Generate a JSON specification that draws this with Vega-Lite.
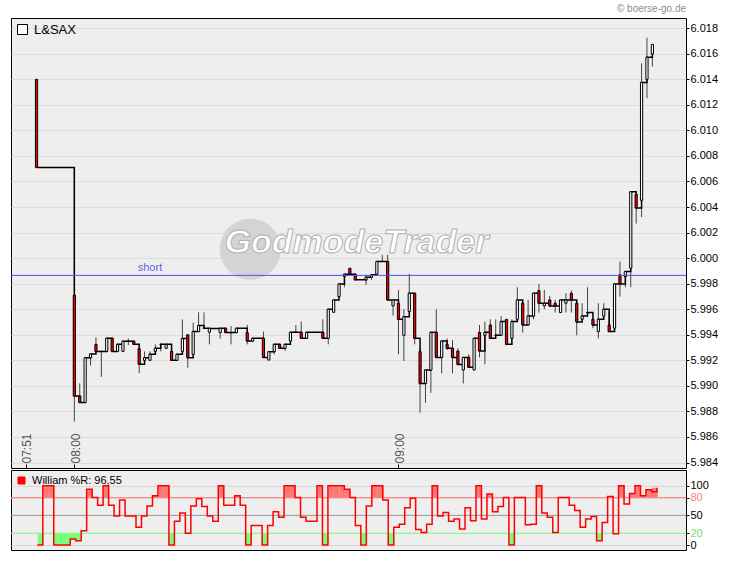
{
  "$schema": "https://vega.github.io/schema/vega-lite/v6.json",
  "padding": {"top": 3, "left": 10, "right": 0, "bottom": 0},
  "background": "white",
  "config": {
    "font": "Liberation Sans",
    "view": {"fill": "#eeeeee", "stroke": "black", "strokeWidth": 1},
    "axis": {"labelFont": "Liberation Sans", "labelFontSize": 11, "labelColor": "black", "tickColor": "black", "gridColor": "#dcdcdc", "domain": false, "title": null, "labelOverlap": false, "labelFlush": false, "labelBound": false}
  },
  "spacing": 0,
  "resolve": {"scale": {"color": "independent", "x": "independent", "y": "independent"}, "legend": {"color": "independent"}},
  "datasets": {
    "candles": [
      {"m": 473, "o": 6.014, "h": 6.014, "l": 6.0071, "c": 6.0071},
      {"m": 480, "o": 5.9971, "h": 6.0071, "l": 5.9872, "c": 5.9892},
      {"m": 481, "o": 5.9892, "h": 5.9902, "l": 5.9887, "c": 5.9887},
      {"m": 482, "o": 5.9887, "h": 5.9922, "l": 5.9887, "c": 5.9922},
      {"m": 483, "o": 5.9922, "h": 5.9925, "l": 5.9916, "c": 5.9925},
      {"m": 484, "o": 5.99325, "h": 5.9938, "l": 5.9927, "c": 5.9927},
      {"m": 485, "o": 5.9927, "h": 5.9927, "l": 5.9907, "c": 5.9927},
      {"m": 486, "o": 5.9927, "h": 5.99373, "l": 5.9927, "c": 5.99373},
      {"m": 487, "o": 5.99373, "h": 5.99373, "l": 5.9927, "c": 5.9927},
      {"m": 488, "o": 5.9927, "h": 5.99325, "l": 5.9927, "c": 5.99325},
      {"m": 489, "o": 5.9927, "h": 5.9935, "l": 5.9927, "c": 5.9935},
      {"m": 490, "o": 5.9935, "h": 5.9937, "l": 5.9932, "c": 5.9935},
      {"m": 491, "o": 5.9935, "h": 5.9935, "l": 5.99325, "c": 5.99325},
      {"m": 492, "o": 5.9929, "h": 5.9929, "l": 5.991, "c": 5.99169},
      {"m": 493, "o": 5.992, "h": 5.9927, "l": 5.992, "c": 5.99221},
      {"m": 494, "o": 5.992, "h": 5.9927, "l": 5.992, "c": 5.99247},
      {"m": 495, "o": 5.9927, "h": 5.99325, "l": 5.9927, "c": 5.99294},
      {"m": 496, "o": 5.99325, "h": 5.99325, "l": 5.9927, "c": 5.99325},
      {"m": 497, "o": 5.99294, "h": 5.99325, "l": 5.99294, "c": 5.99325},
      {"m": 498, "o": 5.9927, "h": 5.9927, "l": 5.992, "c": 5.992},
      {"m": 499, "o": 5.992, "h": 5.99247, "l": 5.992, "c": 5.99247},
      {"m": 500, "o": 5.9927, "h": 5.9952, "l": 5.9927, "c": 5.9937},
      {"m": 501, "o": 5.994, "h": 5.994, "l": 5.99142, "c": 5.99221},
      {"m": 502, "o": 5.99247, "h": 5.99495, "l": 5.99247, "c": 5.99425},
      {"m": 503, "o": 5.99425, "h": 5.99576, "l": 5.99425, "c": 5.99472},
      {"m": 504, "o": 5.99451, "h": 5.99576, "l": 5.99451, "c": 5.99451},
      {"m": 505, "o": 5.9942, "h": 5.9945, "l": 5.99325, "c": 5.9945},
      {"m": 507, "o": 5.99417, "h": 5.99451, "l": 5.9937, "c": 5.99451},
      {"m": 508, "o": 5.99451, "h": 5.99451, "l": 5.99417, "c": 5.99417},
      {"m": 509, "o": 5.99417, "h": 5.99469, "l": 5.99325, "c": 5.99417},
      {"m": 510, "o": 5.99417, "h": 5.99451, "l": 5.99417, "c": 5.99451},
      {"m": 512, "o": 5.99417, "h": 5.99477, "l": 5.99325, "c": 5.99351},
      {"m": 513, "o": 5.99351, "h": 5.99372, "l": 5.99351, "c": 5.99372},
      {"m": 515, "o": 5.99372, "h": 5.99425, "l": 5.99223, "c": 5.99223},
      {"m": 516, "o": 5.99202, "h": 5.99268, "l": 5.99202, "c": 5.99268},
      {"m": 517, "o": 5.99268, "h": 5.99325, "l": 5.99247, "c": 5.99325},
      {"m": 518, "o": 5.99325, "h": 5.99325, "l": 5.99294, "c": 5.99294},
      {"m": 519, "o": 5.99294, "h": 5.99325, "l": 5.99273, "c": 5.99325},
      {"m": 520, "o": 5.99351, "h": 5.99419, "l": 5.99351, "c": 5.99419},
      {"m": 521, "o": 5.99419, "h": 5.99477, "l": 5.99419, "c": 5.99419},
      {"m": 522, "o": 5.99419, "h": 5.99503, "l": 5.99372, "c": 5.99372},
      {"m": 523, "o": 5.99372, "h": 5.99419, "l": 5.99372, "c": 5.99419},
      {"m": 526, "o": 5.99419, "h": 5.99521, "l": 5.99372, "c": 5.99372},
      {"m": 527, "o": 5.99372, "h": 5.996, "l": 5.99325, "c": 5.996},
      {"m": 528, "o": 5.99576, "h": 5.99673, "l": 5.99576, "c": 5.99673},
      {"m": 529, "o": 5.99699, "h": 5.99798, "l": 5.99699, "c": 5.99798},
      {"m": 530, "o": 5.99856, "h": 5.99874, "l": 5.99772, "c": 5.99874},
      {"m": 531, "o": 5.99921, "h": 5.99921, "l": 5.99874, "c": 5.99874},
      {"m": 532, "o": 5.99874, "h": 5.99874, "l": 5.9983, "c": 5.9983},
      {"m": 534, "o": 5.9983, "h": 5.99869, "l": 5.99791, "c": 5.99851},
      {"m": 535, "o": 5.99851, "h": 5.99877, "l": 5.9983, "c": 5.99869},
      {"m": 536, "o": 5.99874, "h": 5.99974, "l": 5.99874, "c": 5.99974},
      {"m": 537, "o": 5.99974, "h": 6.00026, "l": 5.99974, "c": 5.99974},
      {"m": 538, "o": 5.99974, "h": 6.00026, "l": 5.99673, "c": 5.99673},
      {"m": 539, "o": 5.99626, "h": 5.99673, "l": 5.9955, "c": 5.99673},
      {"m": 540, "o": 5.99647, "h": 5.99751, "l": 5.99247, "c": 5.99521},
      {"m": 541, "o": 5.99396, "h": 5.996, "l": 5.99195, "c": 5.99542},
      {"m": 542, "o": 5.99582, "h": 5.99877, "l": 5.99582, "c": 5.99725},
      {"m": 543, "o": 5.99725, "h": 5.99725, "l": 5.99325, "c": 5.99372},
      {"m": 544, "o": 5.99268, "h": 5.99294, "l": 5.98789, "c": 5.99019},
      {"m": 545, "o": 5.99019, "h": 5.99124, "l": 5.98868, "c": 5.99124},
      {"m": 546, "o": 5.99124, "h": 5.99419, "l": 5.98945, "c": 5.99419},
      {"m": 547, "o": 5.99419, "h": 5.996, "l": 5.99223, "c": 5.99223},
      {"m": 548, "o": 5.99223, "h": 5.99351, "l": 5.99098, "c": 5.99351},
      {"m": 549, "o": 5.99325, "h": 5.99372, "l": 5.99281, "c": 5.99294},
      {"m": 550, "o": 5.99294, "h": 5.99359, "l": 5.99098, "c": 5.99223},
      {"m": 551, "o": 5.99273, "h": 5.99294, "l": 5.99168, "c": 5.99168},
      {"m": 552, "o": 5.99124, "h": 5.99223, "l": 5.99019, "c": 5.99223},
      {"m": 553, "o": 5.99223, "h": 5.99247, "l": 5.99145, "c": 5.99145},
      {"m": 554, "o": 5.99124, "h": 5.99372, "l": 5.99124, "c": 5.99372},
      {"m": 555, "o": 5.99419, "h": 5.99477, "l": 5.99223, "c": 5.99273},
      {"m": 556, "o": 5.99396, "h": 5.99503, "l": 5.99168, "c": 5.99419},
      {"m": 557, "o": 5.99477, "h": 5.99521, "l": 5.99372, "c": 5.99372},
      {"m": 558, "o": 5.99396, "h": 5.99521, "l": 5.99396, "c": 5.99396},
      {"m": 559, "o": 5.99396, "h": 5.99547, "l": 5.99396, "c": 5.99503},
      {"m": 560, "o": 5.99521, "h": 5.99521, "l": 5.99325, "c": 5.99325},
      {"m": 561, "o": 5.99372, "h": 5.99521, "l": 5.99372, "c": 5.99503},
      {"m": 562, "o": 5.99521, "h": 5.99772, "l": 5.99521, "c": 5.99673},
      {"m": 563, "o": 5.99647, "h": 5.99647, "l": 5.99417, "c": 5.99477},
      {"m": 564, "o": 5.99477, "h": 5.99673, "l": 5.99477, "c": 5.99547},
      {"m": 565, "o": 5.99547, "h": 5.99725, "l": 5.99521, "c": 5.99725},
      {"m": 566, "o": 5.99746, "h": 5.99798, "l": 5.99574, "c": 5.99647},
      {"m": 567, "o": 5.99626, "h": 5.99751, "l": 5.996, "c": 5.99647},
      {"m": 568, "o": 5.99673, "h": 5.99704, "l": 5.99626, "c": 5.99626},
      {"m": 569, "o": 5.99647, "h": 5.99673, "l": 5.99574, "c": 5.99626},
      {"m": 570, "o": 5.99574, "h": 5.99673, "l": 5.99574, "c": 5.99673},
      {"m": 571, "o": 5.99647, "h": 5.99725, "l": 5.99574, "c": 5.99673},
      {"m": 572, "o": 5.99725, "h": 5.99746, "l": 5.99574, "c": 5.99673},
      {"m": 573, "o": 5.99647, "h": 5.99647, "l": 5.99396, "c": 5.99501},
      {"m": 574, "o": 5.99521, "h": 5.99647, "l": 5.99521, "c": 5.99547},
      {"m": 575, "o": 5.99574, "h": 5.99772, "l": 5.99574, "c": 5.99574},
      {"m": 576, "o": 5.99521, "h": 5.99521, "l": 5.99451, "c": 5.99477},
      {"m": 577, "o": 5.99425, "h": 5.99647, "l": 5.99372, "c": 5.99521},
      {"m": 578, "o": 5.99547, "h": 5.99647, "l": 5.99547, "c": 5.996},
      {"m": 579, "o": 5.99477, "h": 5.99574, "l": 5.99425, "c": 5.99425},
      {"m": 580, "o": 5.99451, "h": 5.99798, "l": 5.99451, "c": 5.99798},
      {"m": 581, "o": 5.99869, "h": 5.99974, "l": 5.99699, "c": 5.99798},
      {"m": 582, "o": 5.99856, "h": 5.99895, "l": 5.99772, "c": 5.99895},
      {"m": 583, "o": 5.99921, "h": 6.0052, "l": 5.99772, "c": 6.0052},
      {"m": 584, "o": 6.005, "h": 6.005, "l": 6.0027, "c": 6.00393},
      {"m": 585, "o": 6.00453, "h": 6.01525, "l": 6.00322, "c": 6.01376},
      {"m": 586, "o": 6.014, "h": 6.01726, "l": 6.01251, "c": 6.01573},
      {"m": 587, "o": 6.01598, "h": 6.01674, "l": 6.01499, "c": 6.01674}
    ],
    "wr": [
      {"m": 474, "v": 0}, {"m": 475, "v": 100}, {"m": 476, "v": 100}, {"m": 477, "v": 0}, {"m": 478, "v": 0}, {"m": 479, "v": 0},
      {"m": 480, "v": 10}, {"m": 481, "v": 7}, {"m": 482, "v": 24}, {"m": 483, "v": 94}, {"m": 484, "v": 80}, {"m": 485, "v": 67},
      {"m": 486, "v": 100}, {"m": 487, "v": 67}, {"m": 488, "v": 49}, {"m": 489, "v": 76}, {"m": 490, "v": 49}, {"m": 491, "v": 49},
      {"m": 492, "v": 30}, {"m": 493, "v": 49}, {"m": 494, "v": 66}, {"m": 495, "v": 83}, {"m": 496, "v": 100}, {"m": 497, "v": 100},
      {"m": 498, "v": 0}, {"m": 499, "v": 40}, {"m": 500, "v": 54}, {"m": 501, "v": 20}, {"m": 502, "v": 66}, {"m": 503, "v": 78},
      {"m": 504, "v": 65}, {"m": 505, "v": 49}, {"m": 506, "v": 40}, {"m": 507, "v": 100}, {"m": 508, "v": 67}, {"m": 509, "v": 67},
      {"m": 510, "v": 83}, {"m": 511, "v": 67}, {"m": 512, "v": 0}, {"m": 513, "v": 33}, {"m": 514, "v": 33}, {"m": 515, "v": 0},
      {"m": 516, "v": 33}, {"m": 517, "v": 56}, {"m": 518, "v": 47}, {"m": 519, "v": 100}, {"m": 520, "v": 100}, {"m": 521, "v": 80},
      {"m": 522, "v": 47}, {"m": 523, "v": 40}, {"m": 524, "v": 40}, {"m": 525, "v": 100}, {"m": 526, "v": 0}, {"m": 527, "v": 100},
      {"m": 528, "v": 100}, {"m": 529, "v": 100}, {"m": 530, "v": 94}, {"m": 531, "v": 80}, {"m": 532, "v": 33}, {"m": 533, "v": 0},
      {"m": 534, "v": 66}, {"m": 535, "v": 100}, {"m": 536, "v": 100}, {"m": 537, "v": 76}, {"m": 538, "v": 0}, {"m": 539, "v": 30},
      {"m": 540, "v": 35}, {"m": 541, "v": 63}, {"m": 542, "v": 79}, {"m": 543, "v": 26}, {"m": 544, "v": 21}, {"m": 545, "v": 35},
      {"m": 546, "v": 100}, {"m": 547, "v": 49}, {"m": 548, "v": 55}, {"m": 549, "v": 40}, {"m": 550, "v": 44}, {"m": 551, "v": 27},
      {"m": 552, "v": 63}, {"m": 553, "v": 41}, {"m": 554, "v": 100}, {"m": 555, "v": 44}, {"m": 556, "v": 86}, {"m": 557, "v": 56},
      {"m": 558, "v": 65}, {"m": 559, "v": 80}, {"m": 560, "v": 0}, {"m": 561, "v": 80}, {"m": 562, "v": 80}, {"m": 563, "v": 34},
      {"m": 564, "v": 35}, {"m": 565, "v": 100}, {"m": 566, "v": 54}, {"m": 567, "v": 47}, {"m": 568, "v": 21}, {"m": 569, "v": 80},
      {"m": 570, "v": 80}, {"m": 571, "v": 67}, {"m": 572, "v": 58}, {"m": 573, "v": 30}, {"m": 574, "v": 44}, {"m": 575, "v": 48},
      {"m": 576, "v": 7}, {"m": 577, "v": 38}, {"m": 578, "v": 82}, {"m": 579, "v": 19}, {"m": 580, "v": 100}, {"m": 581, "v": 69},
      {"m": 582, "v": 87}, {"m": 583, "v": 100}, {"m": 584, "v": 83}, {"m": 585, "v": 93}, {"m": 586, "v": 90}, {"m": 587, "v": 96.55}
    ]
  },
  "vconcat": [
    {
      "width": 675,
      "height": 450,
      "title": {"text": "© boerse-go.de", "anchor": "end", "frame": "group", "fontSize": 10, "fontWeight": "normal", "color": "#8c8c8c", "offset": 4, "font": "Liberation Sans"},
      "data": {"name": "candles"},
      "layer": [
        {
          "data": {"values": [{"logo": "GodmodeTrader"}]},
          "mark": {"type": "text", "text": "●", "font": "DejaVu Sans", "fontSize": 80, "color": "#d4d4d4", "dx": -98, "dy": 3, "align": "center", "baseline": "middle"},
          "encoding": {}
        },
        {
          "data": {"values": [{"logo": "GodmodeTrader"}]},
          "mark": {"type": "text", "font": "Liberation Sans", "fontSize": 34, "fontStyle": "italic", "fontWeight": "bold", "fill": "white", "stroke": "#b0b0b0", "strokeWidth": 1, "dx": 8, "align": "center", "baseline": "middle"},
          "encoding": {"text": {"field": "logo"}}
        },
        {
          "mark": {"type": "rule", "color": "#444444", "strokeWidth": 1},
          "encoding": {
            "x": {"field": "m", "type": "quantitative", "title": null,
                  "scale": {"domain": [469.2, 592.3], "nice": false, "zero": false},
                  "axis": {"orient": "bottom", "values": [471, 480, 540], "grid": false, "labelOverlap": false,
                           "labelExpr": "(datum.value < 600 ? '0' : '') + floor(datum.value / 60) + ':' + (datum.value % 60 < 10 ? '0' : '') + (datum.value % 60)",
                           "labelAngle": 270, "labelAlign": "left", "labelBaseline": "top", "tickSize": -4, "labelPadding": -1,
                           "labelColor": "#555555", "labelFontSize": 12, "labelOffset": -4}},
            "y": {"field": "l", "type": "quantitative", "title": null,
                  "scale": {"domain": [5.98357, 6.0188], "nice": false, "zero": false},
                  "axis": {"orient": "right", "values": [5.984, 5.986, 5.988, 5.99, 5.992, 5.994, 5.996, 5.998, 6.0, 6.002, 6.004, 6.006, 6.008, 6.01, 6.012, 6.014, 6.016, 6.018],
                           "format": ".3f", "tickSize": 3, "labelPadding": 1, "grid": true, "labelOverlap": false, "labelFlush": false}},
            "y2": {"field": "h"}
          }
        },
        {
          "mark": {"type": "line", "interpolate": "step-after", "strokeWidth": 1.5},
          "encoding": {
            "x": {"field": "m", "type": "quantitative", "title": null, "axis": {"orient": "bottom", "values": [471, 480, 540]}},
            "y": {"field": "c", "type": "quantitative", "title": null,
                  "axis": {"orient": "right", "grid": true, "values": [5.984, 5.986, 5.988, 5.99, 5.992, 5.994, 5.996, 5.998, 6.0, 6.002, 6.004, 6.006, 6.008, 6.01, 6.012, 6.014, 6.016, 6.018]}},
            "color": {"datum": "L&SAX", "scale": {"range": ["black"]},
                      "legend": {"title": null, "orient": "top-left", "offset": 5, "padding": 0, "symbolType": "square", "symbolSize": 100,
                                 "labelFontSize": 13, "labelFont": "Liberation Sans", "labelColor": "black", "labelOffset": 5,
                                 "encode": {"symbols": {"update": {"fill": {"value": "white"}, "stroke": {"value": "black"}, "strokeWidth": {"value": 1}}}}}}
          }
        },
        {
          "mark": {"type": "bar", "width": 2.2, "stroke": "black", "strokeWidth": 1},
          "encoding": {
            "x": {"field": "m", "type": "quantitative", "title": null, "axis": {"orient": "bottom", "values": [471, 480, 540]}},
            "y": {"field": "o", "type": "quantitative", "title": null,
                  "axis": {"orient": "right", "grid": true, "values": [5.984, 5.986, 5.988, 5.99, 5.992, 5.994, 5.996, 5.998, 6.0, 6.002, 6.004, 6.006, 6.008, 6.01, 6.012, 6.014, 6.016, 6.018]}},
            "y2": {"field": "c"},
            "fill": {"condition": {"test": "datum.c < datum.o", "value": "#ff0000"}, "value": "white"}
          }
        },
        {
          "data": {"values": [{"level": 5.99865, "label": "short", "at": 494}]},
          "mark": {"type": "rule", "color": "#4d4dff", "strokeWidth": 1},
          "encoding": {"y": {"field": "level", "type": "quantitative", "title": null,
                  "axis": {"orient": "right", "grid": true, "values": [5.984, 5.986, 5.988, 5.99, 5.992, 5.994, 5.996, 5.998, 6.0, 6.002, 6.004, 6.006, 6.008, 6.01, 6.012, 6.014, 6.016, 6.018]}}}
        },
        {
          "data": {"values": [{"level": 5.99865, "label": "short", "at": 494}]},
          "mark": {"type": "text", "color": "#6464e6", "fontSize": 11, "dy": -7, "align": "center", "baseline": "middle"},
          "encoding": {"x": {"field": "at", "type": "quantitative", "title": null, "axis": {"orient": "bottom", "values": [471, 480, 540]}},
                       "y": {"field": "level", "type": "quantitative", "title": null,
                  "axis": {"orient": "right", "grid": true, "values": [5.984, 5.986, 5.988, 5.99, 5.992, 5.994, 5.996, 5.998, 6.0, 6.002, 6.004, 6.006, 6.008, 6.01, 6.012, 6.014, 6.016, 6.018]}},
                       "text": {"field": "label"}}
        }
      ]
    },
    {
      "width": 675,
      "height": 80,
      "data": {"name": "wr"},
      "layer": [
        {
          "transform": [{"filter": "datum.v > 80"}],
          "mark": {"type": "bar", "color": "#ff7878", "binSpacing": 0},
          "encoding": {
            "x": {"field": "m", "type": "quantitative", "bin": {"step": 1}, "title": null,
                  "scale": {"domain": [469.2, 592.3], "nice": false, "zero": false}, "axis": null},
            "y": {"field": "v", "type": "quantitative", "title": null,
                  "scale": {"domain": [-8.4, 126.5], "nice": false, "zero": false},
                  "axis": {"orient": "right", "values": [0, 20, 50, 80, 100], "tickSize": 3, "labelPadding": 1, "grid": true, "gridColor": "#d8d8d8", "labelOverlap": false, "labelFlush": false,
                           "labelColor": {"condition": [{"test": "datum.value == 80", "value": "#ff8080"}, {"test": "datum.value == 20", "value": "#70e070"}], "value": "black"}}},
            "y2": {"datum": 80}
          }
        },
        {
          "transform": [{"filter": "datum.v < 20"}],
          "mark": {"type": "bar", "color": "#78ff78", "binSpacing": 0},
          "encoding": {
            "x": {"field": "m", "type": "quantitative", "bin": {"step": 1}, "title": null},
            "y": {"field": "v", "type": "quantitative", "title": null, "axis": {"orient": "right", "values": [0, 20, 50, 80, 100]}},
            "y2": {"datum": 20}
          }
        },
        {
          "data": {"values": [{"level": 80}]},
          "mark": {"type": "rule", "color": "#ff8080", "strokeWidth": 1},
          "encoding": {"y": {"field": "level", "type": "quantitative", "axis": {"orient": "right", "values": [0, 20, 50, 80, 100]}}}
        },
        {
          "data": {"values": [{"level": 50}]},
          "mark": {"type": "rule", "color": "#999999", "strokeWidth": 1},
          "encoding": {"y": {"field": "level", "type": "quantitative", "axis": {"orient": "right", "values": [0, 20, 50, 80, 100]}}}
        },
        {
          "data": {"values": [{"level": 20}]},
          "mark": {"type": "rule", "color": "#80ff80", "strokeWidth": 1},
          "encoding": {"y": {"field": "level", "type": "quantitative", "axis": {"orient": "right", "values": [0, 20, 50, 80, 100]}}}
        },
        {
          "mark": {"type": "line", "interpolate": "step-after", "strokeWidth": 1.5},
          "encoding": {
            "x": {"field": "m", "type": "quantitative", "title": null},
            "y": {"field": "v", "type": "quantitative", "title": null, "axis": {"orient": "right", "values": [0, 20, 50, 80, 100]}},
            "color": {"datum": "William %R: 96,55", "scale": {"range": ["#ff0000"]},
                      "legend": {"title": null, "orient": "top-left", "offset": 5, "padding": 0, "symbolType": "square", "symbolSize": 49,
                                 "labelFontSize": 11, "labelFont": "Liberation Sans", "labelColor": "black", "labelOffset": 5,
                                 "encode": {"symbols": {"update": {"fill": {"value": "#ff0000"}, "stroke": {"value": "black"}, "strokeWidth": {"value": 1}}}}}}
          }
        }
      ]
    }
  ]
}
